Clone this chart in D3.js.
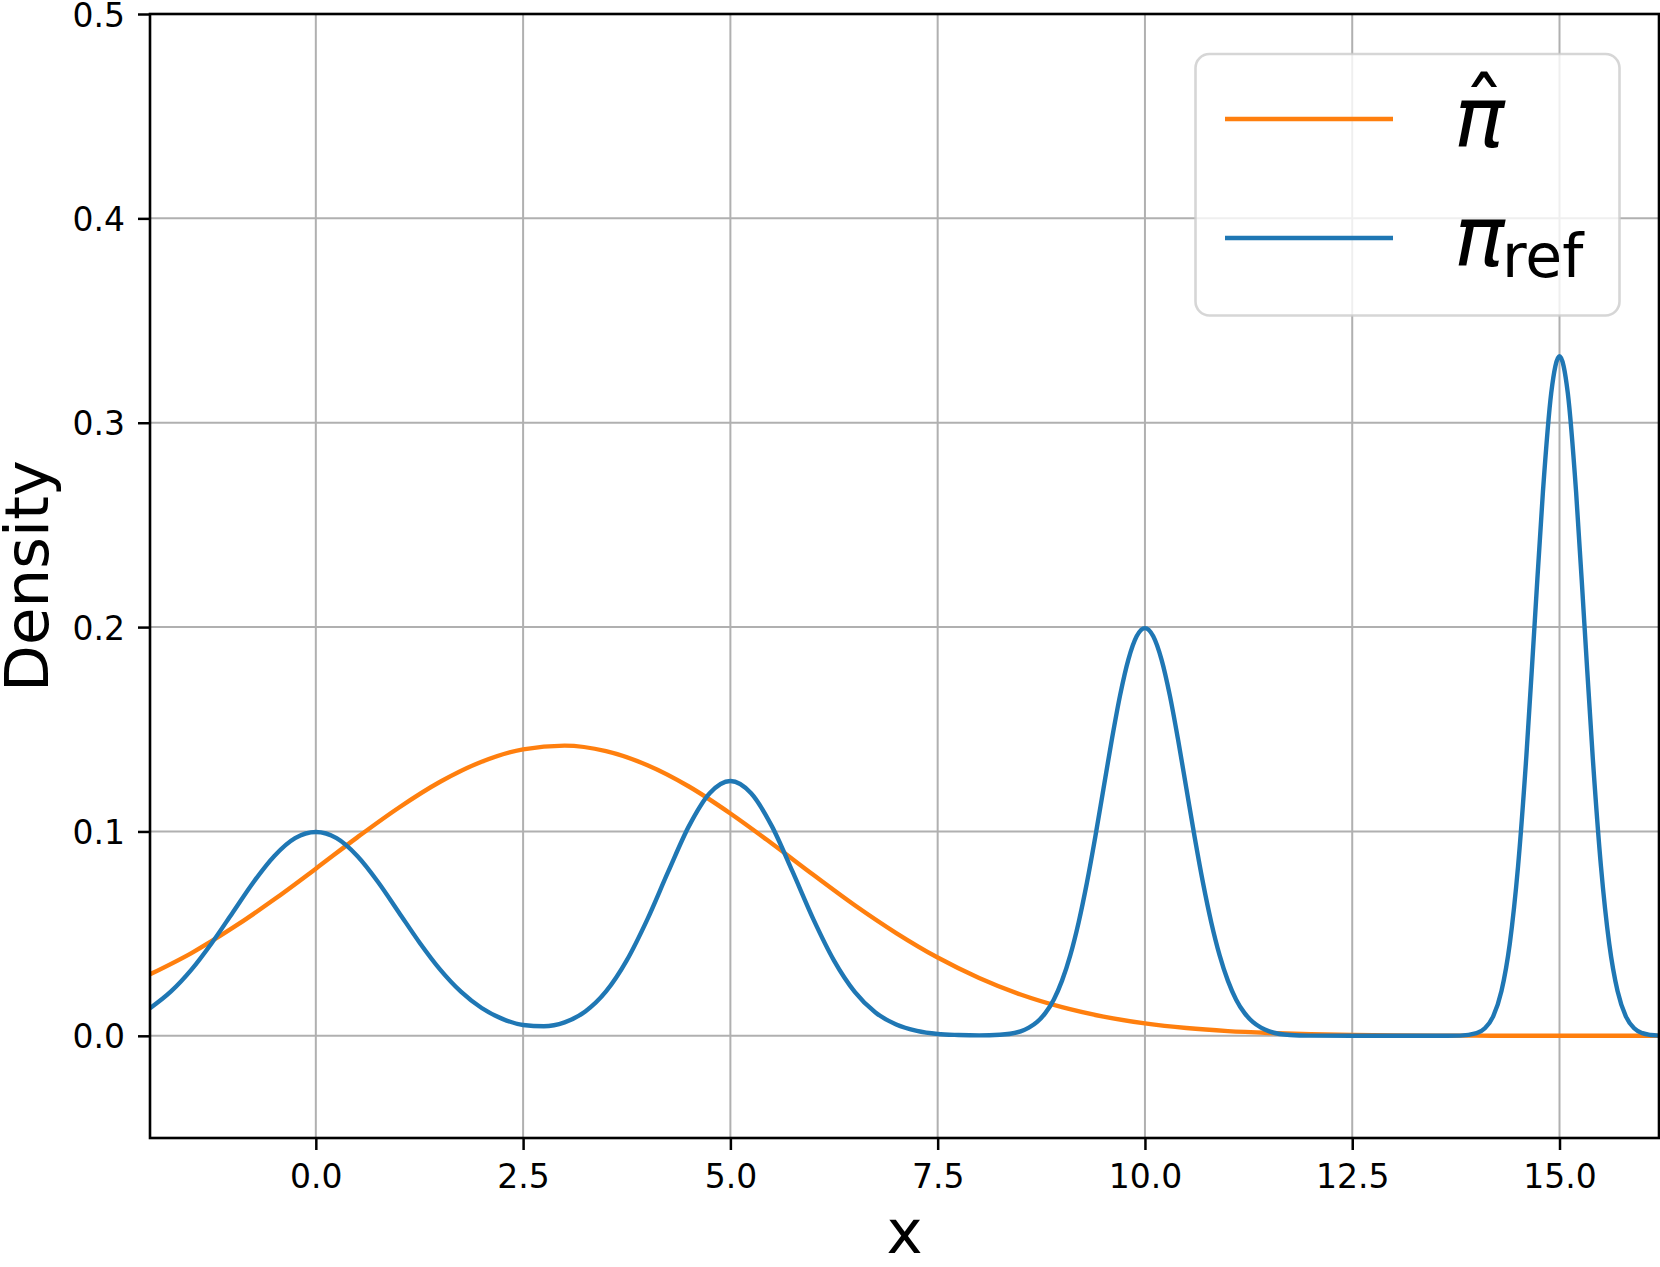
<!DOCTYPE html>
<html><head><meta charset="utf-8">
<script src="https://cdn.jsdelivr.net/npm/d3@7"></script>
<style>body{margin:0;background:#fff}svg{display:block}</style>
</head><body><svg id="c" width="1660" height="1267"></svg>
<script>
// ---- data ----
const refX = [-2,-1.75,-1.5,-1.25,-1,-0.75,-0.5,-0.25,0,0.25,0.5,0.75,1,1.25,1.5,1.75,2,2.25,2.5,2.75,3,3.25,3.5,3.75,4,4.25,4.5,4.75,5,5.25,5.5,5.75,6,6.25,6.5,6.75,7,7.25,7.5,7.75,8,8.25,
  8.5,8.6,8.7,8.8,8.9,9,9.1,9.2,9.3,9.4,9.5,9.6,9.7,9.8,9.9,10,10.1,10.2,10.3,10.4,10.5,10.6,10.7,10.8,10.9,11,11.1,11.2,11.3,11.4,11.5,11.75,12,12.5,13,13.5,13.8,
  14,14.1,14.2,14.3,14.4,14.5,14.6,14.7,14.8,14.9,15,15.1,15.2,15.3,15.4,15.5,15.6,15.7,15.8,15.9,16,16.1,16.2];
const refY = [0.0135,0.0216,0.0324,0.0457,0.0605,0.0753,0.0880,0.0967,0.0997,0.0967,0.0880,0.0753,0.0605,0.0457,0.0324,0.0216,0.0136,0.0083,0.0053,0.0047,0.0066,0.0119,0.0217,0.0369,0.0571,0.0803,0.1026,0.1187,0.1247,0.1187,0.1026,0.0803,0.0571,0.0368,0.0215,0.0114,0.0055,0.0024,0.0009,0.0004,0.0002,0.0005,
  0.0022,0.0040,0.0068,0.0112,0.0177,0.0270,0.0395,0.0555,0.0749,0.0971,0.1210,0.1448,0.1666,0.1841,0.1955,0.1995,0.1955,0.1841,0.1666,0.1448,0.1210,0.0971,0.0749,0.0555,0.0395,0.0270,0.0177,0.0112,0.0068,0.0040,0.0022,0.0004,0.0001,0,0,0,0.0001,
  0.0013,0.0037,0.0095,0.0219,0.0450,0.0829,0.1367,0.2016,0.2662,0.3145,0.3325,0.3145,0.2662,0.2016,0.1367,0.0829,0.0450,0.0219,0.0095,0.0037,0.0013,0.0004,0.0001];
const hatX = [-2,-1.5,-1,-0.5,0,0.5,1,1.5,2,2.5,3,3.5,4,4.5,5,5.5,6,6.5,7,7.5,8,8.5,9,9.5,10,10.5,11,11.5,12,12.5,13,13.5,14,14.5,15,15.5,16,16.2];
const hatY = [0.0301,0.0405,0.0529,0.0668,0.0818,0.0971,0.1116,0.1243,0.1341,0.1402,0.1420,0.1393,0.1324,0.1220,0.1088,0.0941,0.0788,0.0639,0.0503,0.0383,0.0283,0.0202,0.0140,0.0094,0.0061,0.0038,0.0023,0.0014,0.0008,0.0004,0.0002,0.0001,0.0001,0,0,0,0,0];
const xTicks = [0,2.5,5,7.5,10,12.5,15];
const yTicks = [0,0.1,0.2,0.3,0.4,0.5];
const xDomain = [-2,16.2];
const yDomain = [-0.05,0.5];

// ---- layout ----
const L=150,R=1659,T=14,B=1138;
const svg=d3.select("#c");
const x=d3.scaleLinear().domain(xDomain).range([L,R]);
const y=d3.scaleLinear().domain(yDomain).range([B,T]);
const font="DejaVu Sans";

// grid
const g=svg.append("g");
g.selectAll(".gx").data(xTicks).join("line").attr("x1",d=>x(d)).attr("x2",d=>x(d)).attr("y1",T).attr("y2",B)
  .attr("stroke","#b0b0b0").attr("stroke-width",2);
g.selectAll(".gy").data(yTicks).join("line").attr("y1",d=>y(d)).attr("y2",d=>y(d)).attr("x1",L).attr("x2",R)
  .attr("stroke","#b0b0b0").attr("stroke-width",2);

// lines
svg.append("clipPath").attr("id","cp").append("rect").attr("x",L).attr("y",T).attr("width",R-L).attr("height",B-T);
const line=d3.line().x(d=>x(d[0])).y(d=>y(d[1])).curve(d3.curveMonotoneX);
svg.append("path").datum(d3.zip(hatX,hatY)).attr("d",line).attr("fill","none").attr("stroke","#ff7f0e")
  .attr("stroke-width",4.4).attr("clip-path","url(#cp)");
svg.append("path").datum(d3.zip(refX,refY)).attr("d",line).attr("fill","none").attr("stroke","#1f77b4")
  .attr("stroke-width",4.4).attr("clip-path","url(#cp)");

// axes
const ax=svg.append("g").attr("transform",`translate(0,${B})`)
  .call(d3.axisBottom(x).tickValues(xTicks).tickFormat(d3.format(".1f")).tickSize(12).tickPadding(10));
const ay=svg.append("g").attr("transform",`translate(${L},0)`)
  .call(d3.axisLeft(y).tickValues(yTicks).tickFormat(d3.format(".1f")).tickSize(12).tickPadding(13));
[ax,ay].forEach(a=>{
  a.select(".domain").remove();
  a.selectAll(".tick line").attr("stroke","#000").attr("stroke-width",2.5);
  a.selectAll(".tick text").attr("font-family",font).attr("font-size",33).attr("fill","#000");
});
ax.selectAll(".tick text").attr("dy",null).attr("y",50);
ay.selectAll(".tick text").attr("dy",null).attr("y",12);
svg.append("rect").attr("x",L).attr("y",T).attr("width",R-L).attr("height",B-T)
  .attr("fill","none").attr("stroke","#000").attr("stroke-width",2.6);

// axis labels
svg.append("text").attr("x",(L+R)/2).attr("y",1253).attr("text-anchor","middle")
  .attr("font-family",font).attr("font-size",61).text("x");
svg.append("text").attr("transform",`translate(48,${(T+B)/2}) rotate(-90)`).attr("text-anchor","middle")
  .attr("font-family",font).attr("font-size",61).text("Density");

// legend
const lg=svg.append("g");
lg.append("rect").attr("x",1195.5).attr("y",54).attr("width",424).attr("height",261.5).attr("rx",14)
  .attr("fill","#fff").attr("fill-opacity",0.8).attr("stroke","#cccccc").attr("stroke-opacity",0.8).attr("stroke-width",2.6);
lg.append("line").attr("x1",1225).attr("x2",1393).attr("y1",119).attr("y2",119).attr("stroke","#ff7f0e").attr("stroke-width",4.4);
lg.append("line").attr("x1",1225).attr("x2",1393).attr("y1",238).attr("y2",238).attr("stroke","#1f77b4").attr("stroke-width",4.4);
lg.append("text").attr("x",1454).attr("y",147).attr("font-family",font).attr("font-style","italic").attr("font-size",84).text("π");
lg.append("text").attr("x",1484).attr("y",139).attr("text-anchor","middle").attr("font-family",font).attr("font-size",84).text("ˆ");
lg.append("text").attr("x",1454).attr("y",266).attr("font-family",font).attr("font-style","italic").attr("font-size",84).text("π");
lg.append("text").attr("x",1502).attr("y",277).attr("font-family",font).attr("font-size",60).text("ref");
</script></body></html>
